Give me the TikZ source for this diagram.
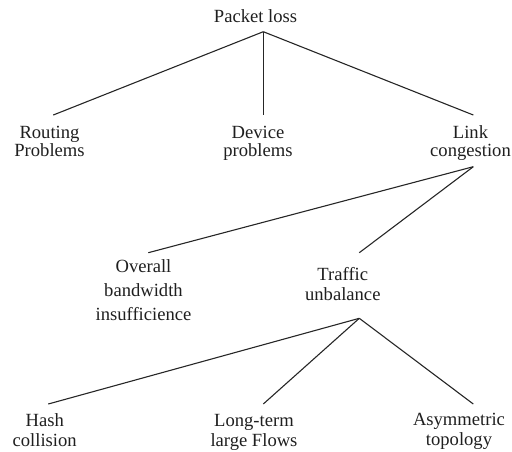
\documentclass[tikz,border=0pt]{standalone}
\usepackage{fontspec}
\setmainfont{Liberation Serif}
\usetikzlibrary{calc}
\newcommand{\myTop}{\rule{0pt}{14pt}}
\newcommand{\myBot}{\rule[-5pt]{0pt}{5pt}}
\begin{document}
\begin{tikzpicture}[x=1pt,y=-1pt,
  lbl/.style={anchor=north,inner sep=0pt,outer sep=0pt,align=center,
    font=\fontsize{18.6}{18}\selectfont,text=black!88},
  conn/.style={line width=1.1pt,draw=black!85}]
\useasboundingbox (0,0) rectangle (512,451);
% nodes
\node[lbl] (pl) at (255.5,8) {\myTop Packet loss\myBot};
\node[lbl] (rp) at (49.5,124) {\myTop Routing\\Problems};
\node[lbl] (dp) at (258,124) {\myTop Device\\problems};
\node[lbl] (lc) at (470.5,124) {\myTop Link\\congestion\myBot};
\node[lbl,font=\fontsize{18.6}{24}\selectfont] (ob) at (143.5,258.7) {\myTop Overall\\bandwidth\\insufficience};
\node[lbl,font=\fontsize{18.6}{20.5}\selectfont] (tu) at (342.8,266) {\myTop Traffic\\unbalance\myBot};
\node[lbl,font=\fontsize{18.6}{20.5}\selectfont] (hc) at (44.7,412) {\myTop Hash\\collision};
\node[lbl,font=\fontsize{18.6}{20.5}\selectfont] (lf) at (254,412) {\myTop Long-term\\large Flows};
\node[lbl,font=\fontsize{18.6}{20.5}\selectfont] (at) at (459,411) {\myTop Asymmetric\\topology};
% junctions
\coordinate (a1) at ($(pl.south)+(7.8,4.7)$);
\coordinate (a2) at ($(lc.south)+(2.8,5.7)$);
\coordinate (a3) at ($(tu.south)+(16.5,12.8)$);
% connectors
\draw[conn] (a1) -- ($(rp.north)+(3.8,-9)$);
\draw[conn] (a1) -- ($(dp.north)+(5.3,-9)$);
\draw[conn] (a1) -- ($(lc.north)+(2.8,-9)$);
\draw[conn] (a2) -- ($(ob.north)+(4.8,-6)$);
\draw[conn] (a2) -- ($(tu.north)+(16.5,-13.3)$);
\draw[conn] (a3) -- ($(hc.north)+(3.6,-8)$);
\draw[conn] (a3) -- ($(lf.north)+(9.3,-8)$);
\draw[conn] (a3) -- ($(at.north)+(14.3,-7)$);
\end{tikzpicture}
\end{document}
